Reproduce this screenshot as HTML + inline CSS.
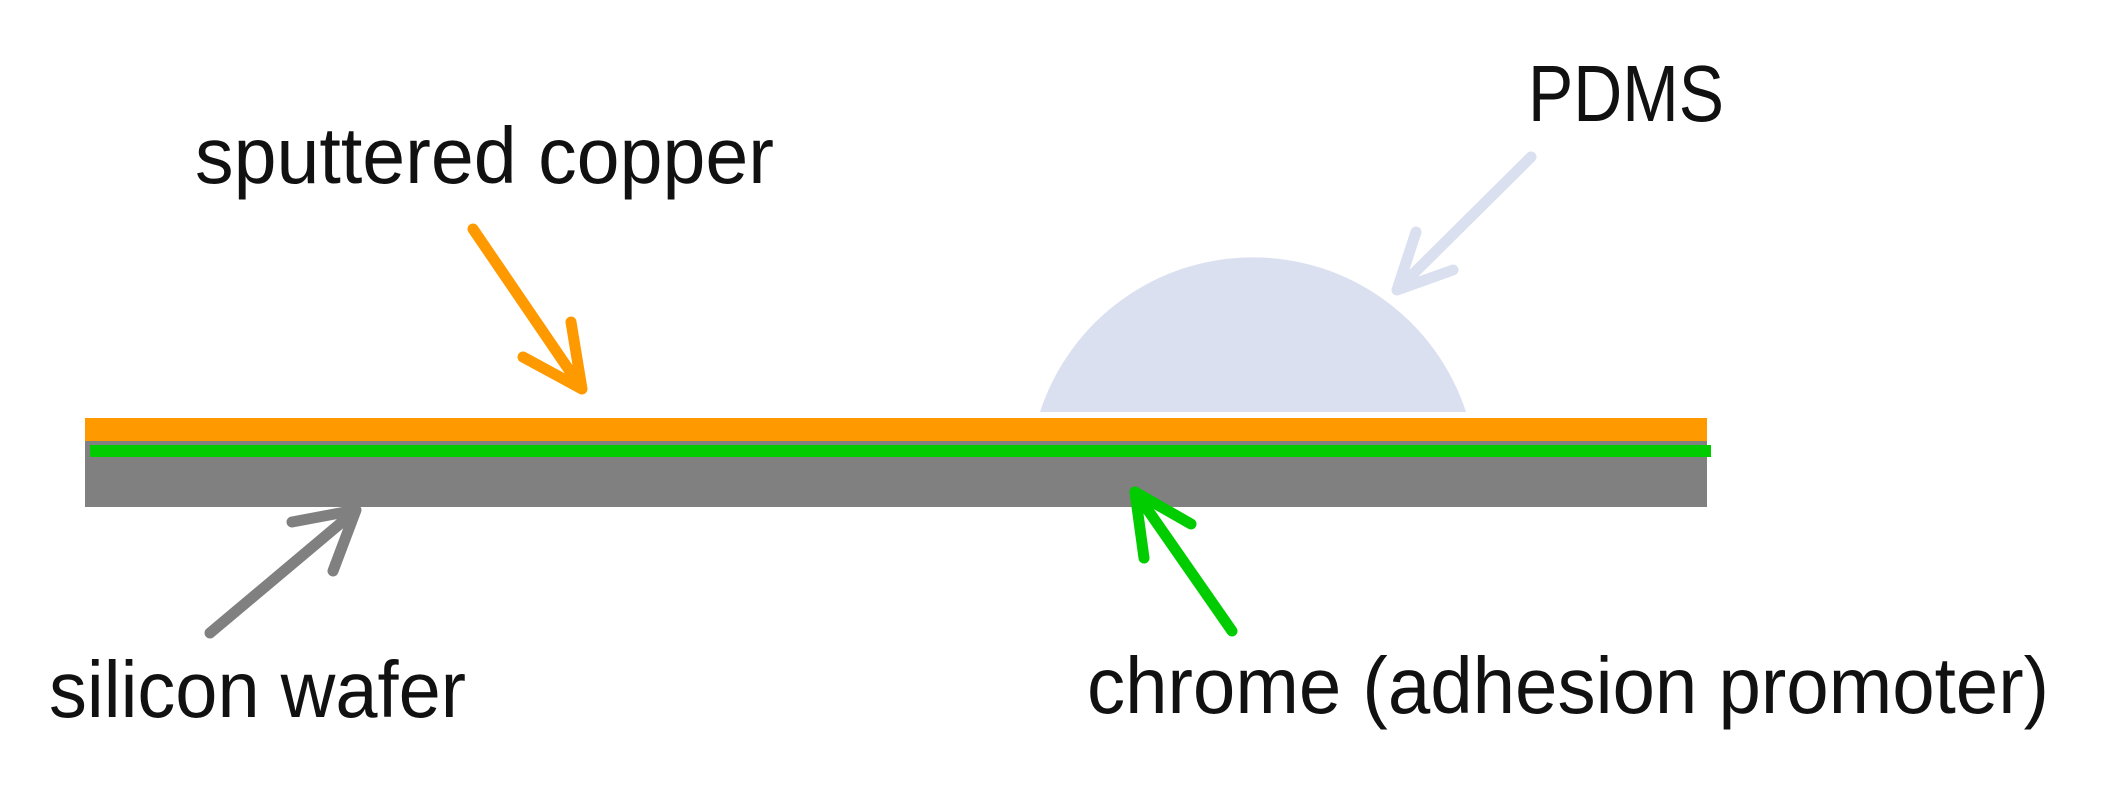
<!DOCTYPE html>
<html><head><meta charset="utf-8"><style>html,body{margin:0;padding:0;background:#fff;}svg{display:block}</style></head>
<body>
<svg width="2108" height="799" viewBox="0 0 2108 799" xmlns="http://www.w3.org/2000/svg">
<rect width="2108" height="799" fill="#fff"/>
<path d="M1040,412 A224,224 0 0 1 1466,412 Z" fill="#dae0ef"/>
<rect x="85" y="441" width="1622" height="66" fill="#808080"/>
<rect x="85" y="418" width="1622" height="23" fill="#ff9900"/>
<rect x="90" y="445" width="1621" height="12" fill="#00cc00"/>
<g fill="none" stroke-linecap="round" stroke-linejoin="round" stroke-width="11">
<path d="M473,229 L580,386 M523,357 L582,389 L571,322" stroke="#ff9900"/>
<path d="M210,633 L354,512 M292,522 L356,510 L333,571" stroke="#808080"/>
<path d="M1232,631 L1136,493 M1144,558 L1135,492 L1191,524" stroke="#00cc00"/>
<path d="M1531,157 L1398,289 M1416,232 L1397,290 L1453,270" stroke="#dae0ef"/>
</g>
<g font-family="Liberation Sans, sans-serif" font-size="80" fill="#111">
<text x="195" y="183" textLength="579" lengthAdjust="spacingAndGlyphs">sputtered copper</text>
<text x="1528" y="121" textLength="196" lengthAdjust="spacingAndGlyphs">PDMS</text>
<text x="49" y="717" textLength="417" lengthAdjust="spacingAndGlyphs">silicon wafer</text>
<text x="1087" y="713" textLength="962" lengthAdjust="spacingAndGlyphs">chrome (adhesion promoter)</text>
</g>
</svg>
</body></html>
